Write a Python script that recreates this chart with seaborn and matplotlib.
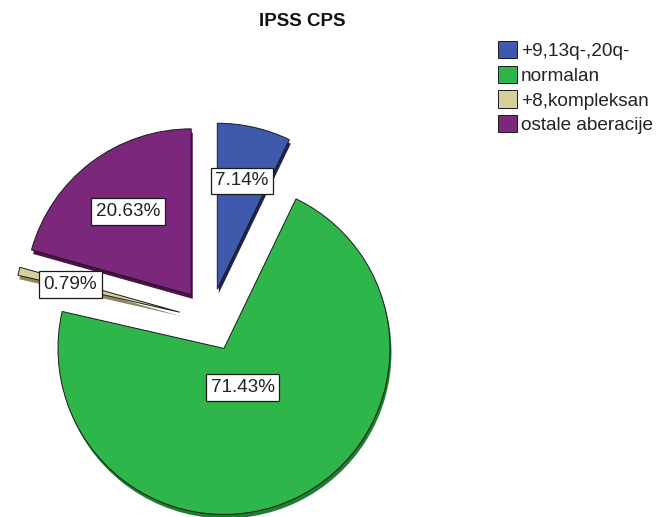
import matplotlib
matplotlib.use("Agg")
import matplotlib.pyplot as plt
import numpy as np
import seaborn as sns

# Karyotype groups (IPSS cytogenetic prognostic score) and patient counts
categories = ["+9,13q-,20q-", "normalan", "+8,kompleksan", "ostale aberacije"]
counts = [9, 90, 1, 26]
slice_colors = ["#3f59ad", "#2fb64b", "#d6d09a", "#7a277c"]
rim_colors = ["#1b2452", "#1f7f31", "#8d8762", "#4a1249"]
# how far from each slice's tip its percentage label sits (fraction of radius)
label_radius = [0.67, 0.26, 0.68, 0.63]

sns.set_theme(style="white")
plt.rcParams["font.family"] = ["Liberation Sans", "DejaVu Sans"]

W, H = 659, 517
fig = plt.figure(figsize=(W / 100, H / 100), dpi=100)
ax = fig.add_axes([0, 0, 1, 1])

center = (210.3, H - 320)
radius = 166
# every slice pulled out by about a fifth of the radius (pie() takes data units)
explode = [0.19 * radius] * len(counts)

# thickness of the "3D" pie: a darker copy shifted slightly down and right
ax.pie(counts, colors=rim_colors, explode=explode, startangle=90,
       counterclock=False, center=(center[0] + 1.5, center[1] - 4.0),
       radius=radius, wedgeprops=dict(linewidth=0), frame=True)

wedges, texts, autotexts = ax.pie(
    counts, colors=slice_colors, explode=explode, startangle=90,
    counterclock=False, center=center, radius=radius,
    autopct=lambda p: f"{p:.2f}%",
    wedgeprops=dict(edgecolor="#1a1a1a", linewidth=0.7),
    textprops=dict(fontsize=13.6, color="#222222"), frame=True)

for w, t, f in zip(wedges, autotexts, label_radius):
    mid = np.deg2rad((w.theta1 + w.theta2) / 2)
    cx, cy = w.center
    t.set_position((cx + f * w.r * np.cos(mid), cy + f * w.r * np.sin(mid)))
    t.set_ha("center")
    t.set_va("center")
    t.set_bbox(dict(boxstyle="square,pad=0.25", facecolor="white",
                    edgecolor="#1a1a1a", linewidth=0.9))

ax.set_xlim(0, W)
ax.set_ylim(0, H)
ax.set_aspect("equal")
ax.axis("off")

ax.legend(wedges, categories, loc="upper left",
          bbox_to_anchor=(498 / W, 1 - 41 / H), frameon=False,
          fontsize=13.7, handlelength=1.0, handleheight=1.0,
          handletextpad=0.2, labelspacing=0.3, borderpad=0,
          borderaxespad=0, labelcolor="#222222")

fig.text(302.5 / W, 1 - 22 / H, "IPSS CPS", ha="center", va="center",
         fontsize=13.5, fontweight="bold", color="#111111")

fig.savefig("out.png", dpi=100)
